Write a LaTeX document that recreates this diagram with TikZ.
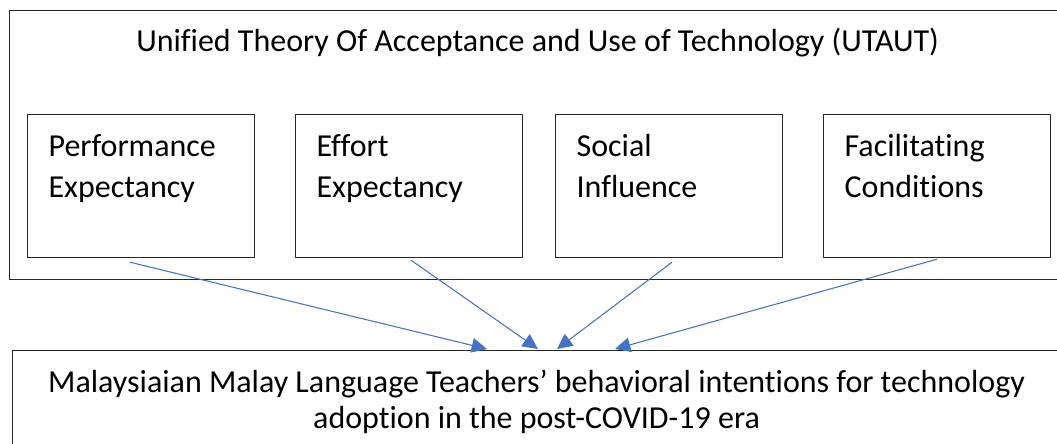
\documentclass[tikz,border=0pt]{standalone}
\usepackage{fontspec}
\setmainfont{Carlito}[Ligatures={NoCommon,NoDiscretionary,NoRare}]
\usetikzlibrary{arrows.meta}
\definecolor{linkblue}{HTML}{4472C4}
\definecolor{framegray}{HTML}{262626}
\tikzset{
  frame/.style={draw=framegray, line width=0.9pt, inner sep=0pt, anchor=north west},
  factor/.style={frame},
  link/.style={draw=linkblue, line width=0.8pt, -{Triangle[length=11.5pt,width=11pt]}},
}
% box text, top aligned: #1 width, #2 height, #3 first baseline, #4 alignment, #5 text
\newcommand{\boxtext}[5]{\parbox[b][#2][t]{#1}{#4\fontsize{24pt}{30.75pt}\selectfont\rule{0pt}{#3}#5}}
\begin{document}
\begin{tikzpicture}[x=0.75pt,y=-0.75pt]
\useasboundingbox (0,0) rectangle (1057,443);
\clip (0,0) rectangle (1057,443);
% outer framework
\node[frame] (utaut) at (9,10)
  {\boxtext{792pt}{201.75pt}{30.75pt}{\centering}{Unified Theory Of Acceptance and Use of Technology (UTAUT)}};
% constructs
\node[factor] (pe) at (27,114)
  {\boxtext{170.25pt}{107.25pt}{31.5pt}{\raggedright\leftskip=15.75pt}{Performance\\Expectancy}};
\node[factor] (ee) at (295,114)
  {\boxtext{170.25pt}{107.25pt}{31.5pt}{\raggedright\leftskip=15.75pt}{Effort\\Expectancy}};
\node[factor] (si) at (555,114)
  {\boxtext{170.25pt}{107.25pt}{31.5pt}{\raggedright\leftskip=15.75pt}{Social\\Influence}};
\node[factor] (fc) at (823,114)
  {\boxtext{170.25pt}{107.25pt}{31.5pt}{\raggedright\leftskip=15.75pt}{Facilitating\\Conditions}};
% outcome
\node[frame] (bi) at (12,350)
  {\parbox[b][90pt][t]{786pt}{\centering\fontsize{24pt}{27pt}\selectfont\rule{0pt}{31.5pt}Malaysiaian Malay Language Teachers’ behavioral intentions for technology\\adoption in the post-COVID-19 era}};
% influences
\draw[link] ([xshift=77.25pt,yshift=-3pt]pe.south west) -- ([xshift=356.25pt,yshift=0.75pt]bi.north west);
\draw[link] ([xshift=87pt,yshift=-1.5pt]ee.south west) -- ([xshift=394.5pt,yshift=0.75pt]bi.north west);
\draw[link] ([xshift=87.75pt,yshift=-3pt]si.south west) -- ([xshift=408.75pt,yshift=0.75pt]bi.north west);
\draw[link] ([xshift=85.5pt,yshift=-0.75pt]fc.south west) -- ([xshift=452.25pt,yshift=0.75pt]bi.north west);
\end{tikzpicture}
\end{document}
